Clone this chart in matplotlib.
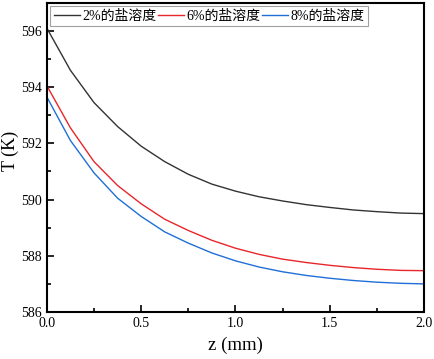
import numpy as np
import matplotlib
matplotlib.use('Agg')
import matplotlib.pyplot as plt
from matplotlib.ticker import MultipleLocator

plt.rcParams['font.family'] = ['Liberation Serif', 'Noto Sans CJK SC']

z = [0.0, 0.125, 0.25, 0.375, 0.5, 0.625, 0.75, 0.875, 1.0,
     1.125, 1.25, 1.375, 1.5, 1.625, 1.75, 1.875, 2.0]
t_2 = [596.1, 594.6, 593.45, 592.6, 591.9, 591.35, 590.9, 590.55, 590.3,
       590.1, 589.95, 589.82, 589.72, 589.63, 589.57, 589.52, 589.5]
t_6 = [594.05, 592.55, 591.35, 590.5, 589.85, 589.3, 588.9, 588.55, 588.27,
       588.05, 587.88, 587.76, 587.66, 587.58, 587.52, 587.48, 587.47]
t_8 = [593.65, 592.1, 590.95, 590.05, 589.4, 588.85, 588.45, 588.1, 587.82,
       587.6, 587.43, 587.3, 587.2, 587.12, 587.06, 587.02, 587.0]
labels = ['2%的盐溶度', '6%的盐溶度', '8%的盐溶度']

fig = plt.figure(figsize=(4.34, 3.59), dpi=100)
ax = fig.add_axes([0.108, 0.131, 0.869, 0.861])
ax.plot(z, t_2, color='#333333', lw=1.0, label=labels[0])
ax.plot(z, t_6, color='#e8262b', lw=1.0, label=labels[1])
ax.plot(z, t_8, color='#1f6fd6', lw=1.0, label=labels[2])

ax.set_xlim(0, 2.0)
ax.set_ylim(586, 597)
ax.xaxis.set_major_locator(MultipleLocator(0.5))
ax.xaxis.set_minor_locator(MultipleLocator(0.25))
ax.yaxis.set_major_locator(MultipleLocator(2))
ax.yaxis.set_minor_locator(MultipleLocator(1))
ax.tick_params(which='both', direction='in', labelsize=10, width=1.2)
ax.tick_params(which='major', length=5)
ax.tick_params(which='minor', length=3)
for s in ax.spines.values():
    s.set_linewidth(1.5)
ax.set_xlabel('z (mm)', fontsize=13.5, labelpad=5)
ax.set_ylabel('T (K)', fontsize=13)
ax.yaxis.set_label_coords(-0.075, 0.52)

leg = ax.legend(loc='upper left', ncol=3, fontsize=10, frameon=True, fancybox=False,
                edgecolor='#888888', borderpad=0.25, handlelength=1.9, handletextpad=0.15,
                columnspacing=0.1, borderaxespad=0.25)
leg.get_frame().set_linewidth(0.8)

fig.savefig('out.png', dpi=100)
